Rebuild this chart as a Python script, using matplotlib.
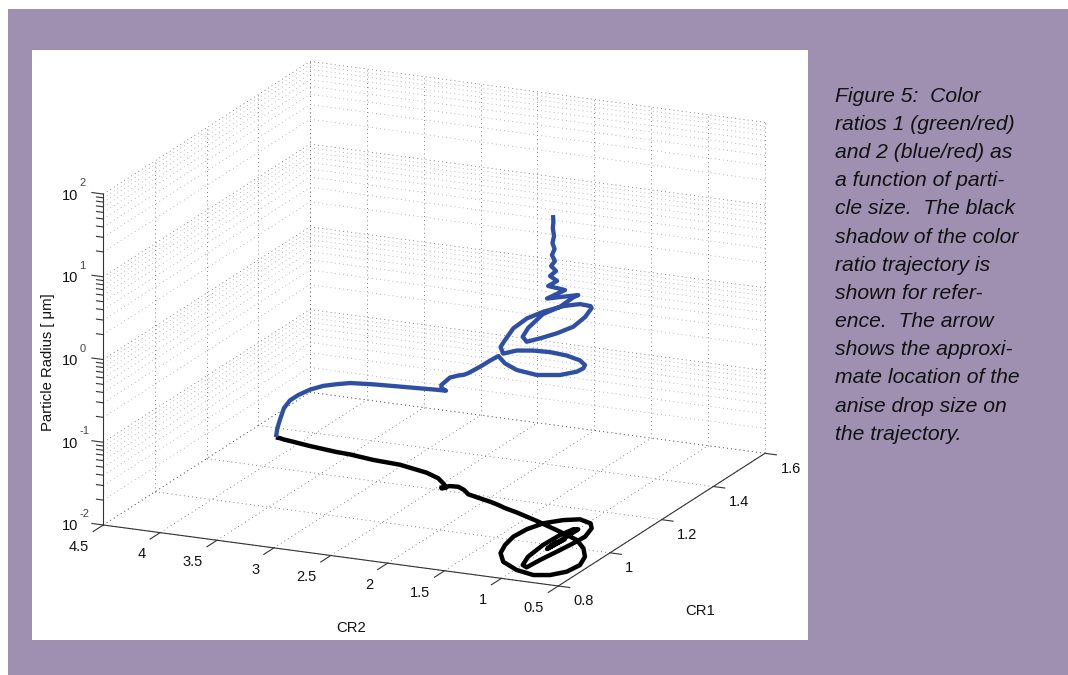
"""Particle size vs colour ratios, 3D trajectory with black shadow on the floor."""

import matplotlib
matplotlib.use("Agg")
import matplotlib.pyplot as plt
import numpy as np
from matplotlib.patches import Rectangle
from mpl_toolkits.mplot3d import proj3d

plt.rcParams["font.family"] = ["Liberation Sans", "DejaVu Sans"]

W, H = 1068, 675

# Trajectory, small particles first
cr2 = [4.238, 4.224, 4.197, 4.154, 4.094, 4.011, 3.892, 3.761, 3.630, 3.504, 3.273, 3.025, 2.741, 2.593, 2.487,
       2.430, 2.455, 2.467, 2.420, 2.352, 2.273, 2.193, 2.063, 1.952, 1.854, 1.771, 1.635, 1.393, 1.103, 0.887,
       0.745, 0.638, 0.580, 0.601, 0.685, 0.806, 0.984, 1.175, 1.294, 1.352, 1.386, 1.372, 1.319, 1.211, 1.098,
       0.975, 0.911, 0.864, 0.875, 0.900, 0.928, 0.942, 0.997, 1.052, 1.076, 1.065, 1.033, 0.997, 1.001, 0.984,
       1.005, 1.008, 1.002, 1.004, 1.006, 1.000, 0.999, 1.003, 1.001, 1.001, 1.005, 1.002, 1.003]
cr1 = [1.353, 1.352, 1.351, 1.347, 1.344, 1.339, 1.332, 1.326, 1.320, 1.317, 1.305, 1.299, 1.277, 1.257, 1.232,
       1.215, 1.209, 1.213, 1.226, 1.228, 1.216, 1.197, 1.185, 1.175, 1.164, 1.153, 1.139, 1.110, 1.072, 1.042,
       1.005, 0.964, 0.919, 0.877, 0.849, 0.838, 0.852, 0.884, 0.926, 0.969, 1.016, 1.062, 1.103, 1.132, 1.147,
       1.134, 1.110, 1.064, 1.023, 0.970, 0.917, 0.872, 0.881, 0.926, 0.994, 1.055, 1.093, 1.096, 0.977, 1.039,
       0.983, 1.019, 0.989, 1.013, 0.995, 1.007, 0.995, 1.007, 0.998, 1.004, 1.001, 1.002, 1.001]
radius = [0.010, 0.013, 0.017, 0.024, 0.031, 0.038, 0.048, 0.058, 0.066, 0.073, 0.082, 0.088, 0.103, 0.117, 0.135,
          0.149, 0.163, 0.173, 0.205, 0.221, 0.247, 0.292, 0.389, 0.506, 0.632, 0.561, 0.527, 0.581, 0.783, 1.081,
          1.497, 2.073, 2.977, 4.099, 4.953, 5.164, 4.493, 3.281, 3.086, 3.002, 3.299, 3.527, 3.607, 3.856, 3.998,
          4.227, 4.594, 4.518, 4.145, 4.358, 4.777, 5.325, 5.740, 5.804, 6.188, 5.740, 6.362, 6.783, 10.646, 10.211,
          14.661, 14.259, 18.833, 19.365, 24.193, 26.299, 32.856, 36.724, 45.247, 53.468, 67.735, 79.599, 97.256]

cr2_ticks = [4.5, 4, 3.5, 3, 2.5, 2, 1.5, 1, 0.5]
cr2_labels = ["4.5", "4", "3.5", "3", "2.5", "2", "1.5", "1", "0.5"]
cr1_ticks = [0.8, 1.0, 1.2, 1.4, 1.6]
cr1_labels = ["0.8", "1", "1.2", "1.4", "1.6"]
decades = [-2, -1, 0, 1, 2]
decade_exps = ["-2", "-1", "0", "1", "2"]

caption = ["Figure 5:  Color", "ratios 1 (green/red)", "and 2 (blue/red) as",
           "a function of parti-", "cle size.  The black", "shadow of the color",
           "ratio trajectory is", "shown for refer-", "ence.  The arrow",
           "shows the approxi-", "mate location of the", "anise drop size on",
           "the trajectory."]

PURPLE = "#9F90B2"
BLUE = "#2F4FA5"
AXIS = "#333333"
GRID = (0, (1, 4))


def px_text(x, y, s, **kw):
    """Text placed by pixel position, y counted from the top."""
    return fig.text(x / W, 1 - y / H, s, **kw)


def to_px(x, y, z):
    xn, yn, _ = proj3d.proj_transform(x, y, z, ax.get_proj())
    return ax.transData.transform((xn, yn))


def line3(xs, ys, zs, **kw):
    ax.plot(xs, ys, zs, **kw)


fig = plt.figure(figsize=(W / 100, H / 100), dpi=100, facecolor="white")
fig.add_artist(Rectangle((8 / W, 0), (W - 8) / W, (H - 9) / H, transform=fig.transFigure,
                         facecolor=PURPLE, edgecolor="none", zorder=-2))
fig.add_artist(Rectangle((32 / W, 1 - 640 / H), 776 / W, 590 / H, transform=fig.transFigure,
                         facecolor="white", edgecolor="none", zorder=-1))

# Square 3D axes, larger than the figure so nothing gets clipped
S = 1400
ax = fig.add_axes([(W - S) / 2 / W, (H - S) / 2 / H, S / W, S / H], projection="3d")
ax.set_proj_type("ortho")
ax.view_init(elev=17.06, azim=-65.44)
ax.set_xlim(4.5, 0.5, view_margin=0)
ax.set_ylim(0.8, 1.6, view_margin=0)
ax.set_zlim(-2, 2, view_margin=0)
ax.set_axis_off()
ax.patch.set_visible(False)
ax.computed_zorder = False

# Fit the box onto the corners measured in the reference
aspect = (500.3, 497.3, 346.2)
ax.set_box_aspect(aspect, zoom=1.0)
ax.apply_aspect()
a_px, c_px = to_px(4.5, 0.8, -2), to_px(0.5, 1.6, -2)
span = np.hypot(*(c_px - a_px))
ax.set_box_aspect(aspect, zoom=np.hypot(765 - 103.3, 525 - 453.3) / span)
ax.apply_aspect()
a_px = to_px(4.5, 0.8, -2)
pos = ax.get_position(original=True)
ax.set_position([pos.x0 + (103.3 - a_px[0]) / W, pos.y0 + ((H - 525) - a_px[1]) / H,
                 pos.width, pos.height])
ax.apply_aspect()

# Grid
major = dict(color="#5a5a5a", lw=0.6, ls=GRID, zorder=1)
minor = dict(color="#a0a0a0", lw=0.6, ls=GRID, zorder=1)
for t in cr2_ticks:
    line3([t, t], [0.8, 1.6], [-2, -2], **major)
    line3([t, t], [1.6, 1.6], [-2, 2], **major)
for t in cr1_ticks:
    line3([4.5, 0.5], [t, t], [-2, -2], **major)
    line3([4.5, 4.5], [t, t], [-2, 2], **major)
for d in decades:
    line3([4.5, 4.5], [0.8, 1.6], [d, d], **major)
    line3([4.5, 0.5], [1.6, 1.6], [d, d], **major)
    if d < 2:
        for m in range(2, 10):
            zm = d + np.log10(m)
            line3([4.5, 4.5], [0.8, 1.6], [zm, zm], **minor)
            line3([4.5, 0.5], [1.6, 1.6], [zm, zm], **minor)

# Axis lines and ticks
solid = dict(color=AXIS, lw=0.8, zorder=2)
line3([4.5, 0.5], [0.8, 0.8], [-2, -2], **solid)
line3([0.5, 0.5], [0.8, 1.6], [-2, -2], **solid)
line3([4.5, 4.5], [0.8, 0.8], [-2, 2], **solid)
for t in cr2_ticks:
    line3([t, t], [0.8, 0.8 - 0.039], [-2, -2], **solid)
for t in cr1_ticks:
    line3([0.5, 0.5 - 0.10], [t, t], [-2, -2], **solid)
for d in decades:
    line3([4.5, 4.5 + 0.10], [0.8, 0.8], [d, d], **solid)
    if d < 2:
        for m in range(2, 10):
            zm = d + np.log10(m)
            line3([4.5, 4.5 + 0.06], [0.8, 0.8], [zm, zm], **solid)

# Shadow on the floor, then the trajectory itself
line3(cr2, cr1, np.full(len(cr2), -2.0), color="black", lw=3.2, zorder=3,
      solid_joinstyle="round", solid_capstyle="butt")
line3(cr2, cr1, np.log10(radius), color=BLUE, lw=3.1, zorder=4,
      solid_joinstyle="round", solid_capstyle="butt")

# Tick labels
tick_font = dict(fontsize=10.5, color="#111111")
label_font = dict(fontsize=10.7, color="#111111")
for t, s in zip(cr2_ticks, cr2_labels):
    x, y = to_px(t, 0.8 - 0.039, -2)
    px_text(x - 4, H - y + 15.3, s, ha="right", va="center", **tick_font)
for t, s in zip(cr1_ticks, cr1_labels):
    x, y = to_px(0.5 - 0.10, t, -2)
    px_text(x + 4, H - y + 13.7, s, ha="left", va="center", **tick_font)
for d, s in zip(decades, decade_exps):
    x, y = to_px(4.5, 0.8, d)
    px_text(x - 25.3, H - y + 1.5, "10", ha="right", va="center", **tick_font)
    px_text(x - 24, H - y - 11, s, ha="left", va="center", fontsize=8, color="#444444")

px_text(351.5, 628, "CR2", ha="center", va="center", **label_font)
px_text(700, 611, "CR1", ha="center", va="center", **label_font)
px_text(48, 362, "Particle Radius [ μm]", ha="center", va="center", rotation=90, **label_font)

for i, line in enumerate(caption):
    px_text(835, 101.7 + i * 28.17, line, ha="left", va="baseline", fontsize=15.2,
            style="italic", color="#111111")

fig.savefig("out.png", dpi=100)
